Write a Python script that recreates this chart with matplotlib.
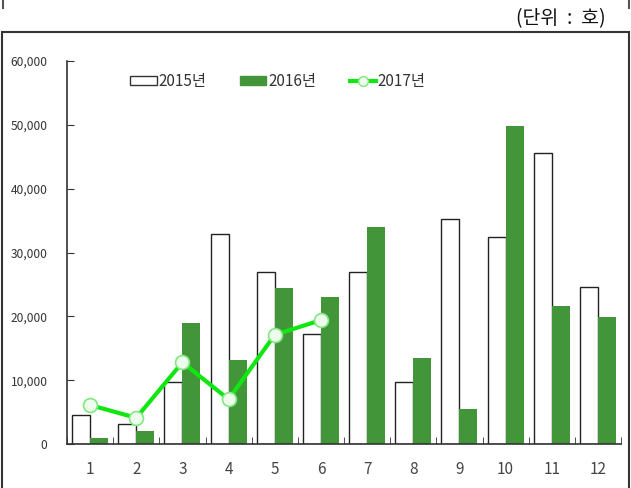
import matplotlib.pyplot as plt
import numpy as np
from matplotlib.patches import Rectangle
from matplotlib.lines import Line2D
from matplotlib.ticker import FuncFormatter

plt.rcParams['font.family'] = ['Noto Sans CJK KR', 'DejaVu Sans']

months = ['1', '2', '3', '4', '5', '6', '7', '8', '9', '10', '11', '12']
y2015 = [4500, 3100, 9700, 32900, 26900, 17200, 26900, 9700, 35200, 32400, 45600, 24600]
y2016 = [900, 2000, 19000, 13100, 24400, 23000, 34000, 13500, 5500, 49800, 21600, 19900]
y2017 = [6100, 4100, 12800, 7000, 17100, 19400]

green = '#429639'
line_green = '#11e611'

fig = plt.figure(figsize=(6.31, 4.88), dpi=100)
ax = fig.add_axes([67 / 631, 44 / 488, (621 - 67) / 631, (444 - 61) / 488])

x = np.arange(1, 13)
w = 0.39
ax.bar(x - w / 2, y2015, width=w, facecolor='white', edgecolor='#222222', linewidth=1.0, zorder=2)
ax.bar(x + w / 2, y2016, width=w, color=green, zorder=2)
ax.plot(x[:len(y2017)], y2017, color=line_green, linewidth=3, marker='o', markersize=10,
        markerfacecolor='#eefcee', markeredgecolor='#7fe87f', markeredgewidth=1.2, zorder=3)

ax.set_xlim(0.5, 12.5)
ax.set_ylim(0, 60000)
ax.set_yticks(range(0, 60001, 10000))
ax.yaxis.set_major_formatter(FuncFormatter(lambda v, p: f'{int(v):,}'))
ax.set_xticks(x)
ax.set_xticklabels(months)
ax.set_xticks(np.arange(0.5, 13, 1), minor=True)

for s in ['top', 'right']:
    ax.spines[s].set_visible(False)
for s in ['left', 'bottom']:
    ax.spines[s].set_color('#333333')
    ax.spines[s].set_linewidth(1.2)

ax.tick_params(axis='y', direction='in', length=5, color='#333333', labelsize=8.6,
               labelcolor='#333333', pad=14)
ax.tick_params(axis='x', which='major', length=0, labelsize=11, labelcolor='#444444', pad=12)
ax.tick_params(axis='x', which='minor', direction='in', length=5, color='#333333')

handles = [
    Rectangle((0, 0), 1, 1, facecolor='white', edgecolor='#333333', linewidth=1),
    Rectangle((0, 0), 1, 1, facecolor=green, edgecolor=green),
    Line2D([0], [0], color=line_green, linewidth=3, marker='o', markersize=7,
           markerfacecolor='#eefcee', markeredgecolor='#7fe87f'),
]
ax.legend(handles, ['2015년', '2016년', '2017년'], loc='upper left', ncol=3,
          bbox_to_anchor=(63 / 554, 1 - 12 / 383), frameon=False, fontsize=11,
          borderaxespad=0, borderpad=0,
          handlelength=1.75, handleheight=0.6, handletextpad=0.1, columnspacing=2.2,
          labelcolor='#333333')

# outer frame
fig.patches.append(Rectangle((2 / 631, -0.01), 627 / 631, (488 - 32) / 488 + 0.01,
                             transform=fig.transFigure, fill=False,
                             edgecolor='#333333', linewidth=1.5))
fig.add_artist(Line2D([3 / 631, 3 / 631], [1.0, 1 - 8 / 488], transform=fig.transFigure,
                      color='#555555', linewidth=1.5))
fig.add_artist(Line2D([629 / 631, 629 / 631], [1.0, 1 - 8 / 488], transform=fig.transFigure,
                      color='#555555', linewidth=1.5))

fig.text(606 / 631, 1 - 19 / 488, '(단위  :  호)', ha='right', va='center', fontsize=14,
         color='#111111')

fig.savefig('out.png', dpi=100)
